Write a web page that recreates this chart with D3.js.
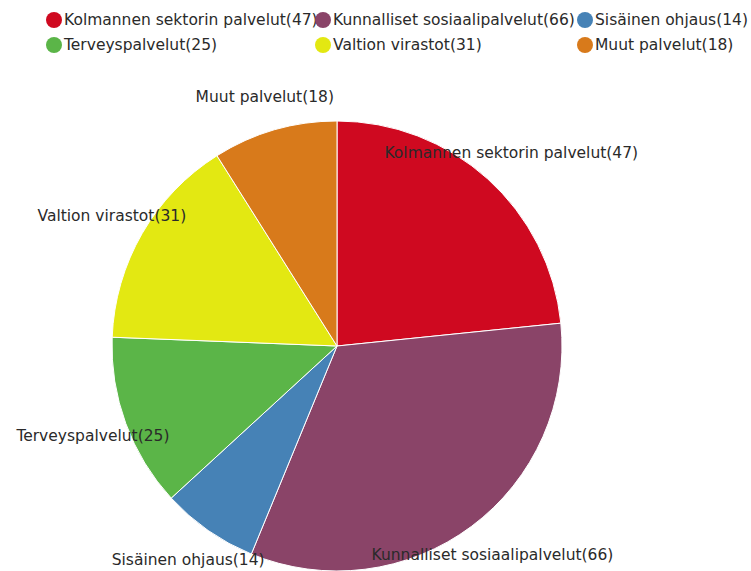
<!DOCTYPE html>
<html>
<head>
<meta charset="utf-8">
<script src="https://cdn.jsdelivr.net/npm/d3@7"></script>
<style>
  body { margin: 0; background: #fff; }
  text { font-family: "DejaVu Sans", sans-serif; }
</style>
</head>
<body>
<div id="chart"></div>
<script>
// data
const categories = ['Kolmannen sektorin palvelut', 'Kunnalliset sosiaalipalvelut', 'Sisäinen ohjaus',
    'Terveyspalvelut', 'Valtion virastot', 'Muut palvelut'];
const counts = [47, 66, 14, 25, 31, 18];
const colors = ['#cf0920', '#8a4468', '#4682b6', '#5bb548', '#e3e812', '#d87a1b'];

const WIDTH = 751, HEIGHT = 571;
const cx = 337, cy = 346, radius = 225, labelR = 260;

let svg = d3.select('#chart').append('svg')
    .attr('width', WIDTH)
    .attr('height', HEIGHT);

let rows = categories.map((c, i) => ({name: c, value: counts[i], color: colors[i]}));

let pie = d3.pie().sort(null).value(d => d.value);
let arc = d3.arc().innerRadius(0).outerRadius(radius);
let labelArc = d3.arc().innerRadius(labelR).outerRadius(labelR);

let g = svg.append('g').attr('transform', `translate(${cx},${cy})`);

g.selectAll('path')
    .data(pie(rows))
    .join('path')
    .attr('d', arc)
    .attr('fill', d => d.data.color)
    .attr('stroke', '#fff')
    .attr('stroke-width', 1);

g.selectAll('text')
    .data(pie(rows))
    .join('text')
    .attr('transform', d => `translate(${labelArc.centroid(d)})`)
    .attr('text-anchor', 'middle')
    .attr('dy', '0.35em')
    .attr('fill', '#2a2a2a')
    .style('font-size', '15.5px')
    .text(d => `${d.data.name}(${d.data.value})`);

// legend, 3 columns x 2 rows
let colX = [54, 323, 585];
let rowY = [20, 45];
let legend = svg.append('g').selectAll('g')
    .data(rows)
    .join('g')
    .attr('transform', (d, i) => `translate(${colX[i % 3]},${rowY[Math.floor(i / 3)]})`);

legend.append('circle')
    .attr('r', 8)
    .attr('fill', d => d.color);

legend.append('text')
    .attr('x', 10)
    .attr('dy', '0.35em')
    .attr('fill', '#2a2a2a')
    .style('font-size', '15.5px')
    .text(d => `${d.name}(${d.value})`);
</script>
</body>
</html>
